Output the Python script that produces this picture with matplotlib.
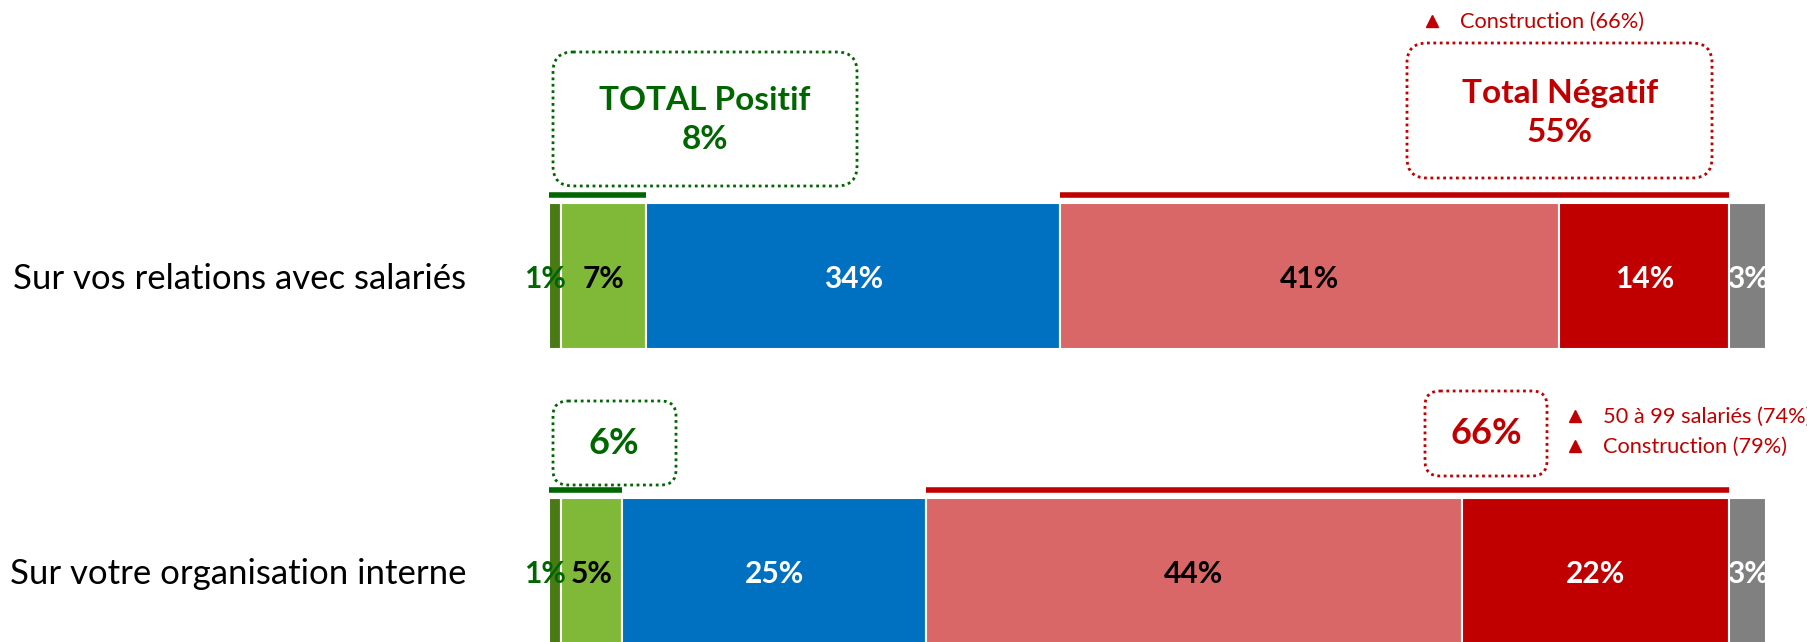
import matplotlib.pyplot as plt
from matplotlib.patches import FancyBboxPatch
import numpy as np

plt.rcParams['font.family'] = ['Lato', 'DejaVu Sans']

# values
categories = ["Sur vos relations avec salariés", "Sur votre organisation interne"]
tres_positif = [1, 1]
positif = [7, 5]
neutre = [34, 25]
negatif = [41, 44]
tres_negatif = [14, 22]
nsp = [3, 3]
total_positif = [8, 6]
total_negatif = [55, 66]
notes = [["Construction (66%)"], ["50 à 99 salariés (74%)", "Construction (79%)"]]

series = [tres_positif, positif, neutre, negatif, tres_negatif, nsp]
colors = ['#4A7A14', '#80B937', '#0070C0', '#D96767', '#C00000', '#808080']
label_colors = ['#006600', 'black', 'white', 'black', 'white', 'white']
green = '#006600'
red = '#C00000'

W, H = 1808, 642
fig = plt.figure(figsize=(W / 100, H / 100), dpi=100)

# bar axes: x in %, y in category units
x0, x1 = 549, 1766
ax = fig.add_axes([x0 / W, 0, (x1 - x0) / W, 1])
ax.set_xlim(0, 100)
ax.set_ylim(1.241, -0.936)
ax.axis('off')

y = np.arange(len(categories))
h = 0.495
left = np.zeros(len(categories))
for i, (vals, c) in enumerate(zip(series, colors)):
    vals = np.array(vals, dtype=float)
    ax.barh(y, vals, left=left, height=h, color=c, edgecolor='white', linewidth=1.5)
    for j in range(len(categories)):
        xc = left[j] + vals[j] / 2
        if i == 0:
            xc = left[j] - 0.35
        ax.text(xc, y[j] + 0.01, f"{vals[j]:.0f}%", ha='center', va='center',
                color=label_colors[i], fontsize=21.5, fontweight='bold', clip_on=False)
    left += vals

# total lines above the bars
neg_start = np.array(tres_positif) + np.array(positif) + np.array(neutre)
for j in range(len(categories)):
    yl = y[j] - h / 2 - 0.028
    ax.plot([0, total_positif[j]], [yl, yl], color=green, lw=4, solid_capstyle='butt', clip_on=False)
    ax.plot([neg_start[j], neg_start[j] + total_negatif[j]], [yl, yl], color=red, lw=4,
            solid_capstyle='butt', clip_on=False)

# category labels
for j, cat in enumerate(categories):
    ax.text(-6.8, y[j] + 0.01, cat, ha='right', va='center', fontsize=25, color='black', clip_on=False)

# overlay in pixel coordinates for the callout boxes
ov = fig.add_axes([0, 0, 1, 1])
ov.set_xlim(0, W)
ov.set_ylim(H, 0)
ov.axis('off')

def box(xa, ya, xb, yb, color, r):
    p = FancyBboxPatch((xa, ya), xb - xa, yb - ya, boxstyle=f"round,pad=0,rounding_size={r}",
                       fill=False, edgecolor=color, lw=2, linestyle=(0, (1, 1.3)))
    ov.add_patch(p)

box(553, 52, 857, 186, green, 20)
ov.text(705, 120, f"TOTAL Positif\n{total_positif[0]}%", ha='center', va='center', color=green,
        fontsize=24, fontweight='bold', linespacing=1.4)
box(1407, 43, 1712, 178, red, 20)
ov.text(1560, 113, f"Total Négatif\n{total_negatif[0]}%", ha='center', va='center', color=red,
        fontsize=24, fontweight='bold', linespacing=1.4)

box(553, 401, 676, 485, green, 15)
ov.text(614, 444, f"{total_positif[1]}%", ha='center', va='center', color=green,
        fontsize=26, fontweight='bold')
box(1425, 391, 1547, 476, red, 15)
ov.text(1486, 434, f"{total_negatif[1]}%", ha='center', va='center', color=red,
        fontsize=26, fontweight='bold')

# significant differences notes
note_pos = [(1432, 1460, [22]), (1575, 1603, [417, 447])]
for (tx, nx, ys), lines in zip(note_pos, notes):
    for yy, txt in zip(ys, lines):
        ov.plot(tx, yy - 1, marker='^', ms=9, color=red, mec=red)
        ov.text(nx, yy, txt, ha='left', va='center', color=red, fontsize=15.7)

plt.savefig('out.png', dpi=100)
